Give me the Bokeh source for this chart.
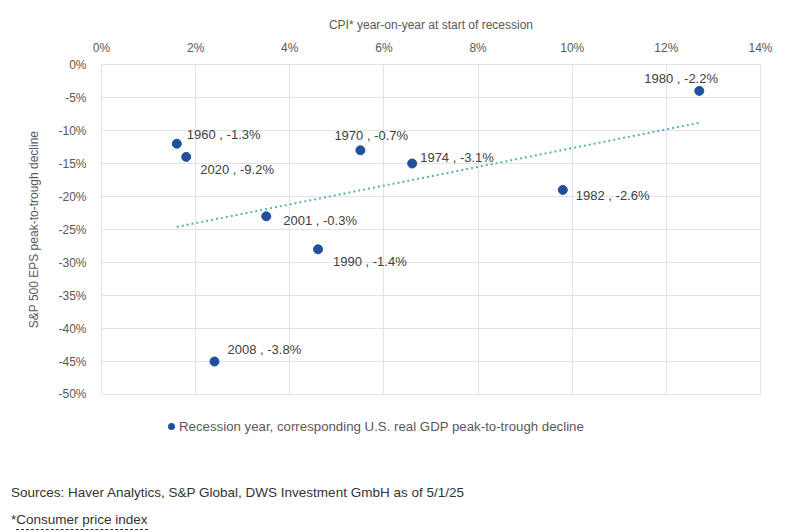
import numpy as np
from bokeh.plotting import figure
from bokeh.layouts import column
from bokeh.models import (ColumnDataSource, Label, PrintfTickFormatter, FixedTicker, Div)
from bokeh.embed import file_html
from bokeh.resources import INLINE

# ---- data ----
years = ["1960", "2020", "1970", "1974", "2001", "1990", "1980", "1982", "2008"]
cpi_yoy = [1.6, 1.8, 5.5, 6.6, 3.5, 4.6, 12.7, 9.8, 2.4]           # % CPI y/y at start of recession
eps_decline = [-12.0, -14.0, -13.0, -15.0, -23.0, -28.0, -4.0, -19.0, -45.0]  # % S&P 500 EPS decline
gdp_decline = ["-1.3", "-9.2", "-0.7", "-3.1", "-0.3", "-1.4", "-2.2", "-2.6", "-3.8"]  # % real GDP decline
x_ticks = [0, 2, 4, 6, 8, 10, 12, 14]
y_ticks = [0, -5, -10, -15, -20, -25, -30, -35, -40, -45, -50]

x_title = "CPI* year-on-year at start of recession"
y_title = "S&P 500 EPS peak-to-trough decline"
legend_text = "Recession year, corresponding U.S. real GDP peak-to-trough decline"
source_text = "Sources: Haver Analytics, S&P Global, DWS Investment GmbH as of 5/1/25"
note_star = "*"
note_text = "Consumer price index"

# label placement (screen px: dx right, dy down) -- styling only
label_offsets = {
    "1960": (10, -9), "2020": (14, 13), "1970": (-26, -15), "1974": (8, -6),
    "2001": (17, 4), "1990": (15, 12), "1980": (-55, -12), "1982": (13, 6),
    "2008": (13, -12),
}

FONT = "Liberation Sans"
GRID = "#dfe3ea"
DOT = "#21509b"
TREND = "#52b5b3"
GREY = "#595959"

p = figure(width=805, height=400, x_range=(0, 14), y_range=(-50, 0),
           x_axis_location="above", output_backend="svg", toolbar_location=None,
           min_border_left=101, min_border_right=45, min_border_top=64, min_border_bottom=6)
p.background_fill_color = "white"
p.border_fill_color = "white"
p.outline_line_color = GRID
p.outline_line_width = 1

for ax, ticks in ((p.xaxis, x_ticks), (p.yaxis, y_ticks)):
    ax.ticker = FixedTicker(ticks=ticks)
    ax.formatter = PrintfTickFormatter(format="%d%%")
    ax.axis_line_color = None
    ax.major_tick_line_color = None
    ax.minor_tick_line_color = None
    ax.major_tick_out = 0
    ax.major_label_text_font = FONT
    ax.major_label_text_font_size = "12px"
    ax.major_label_text_color = GREY
    ax.axis_label_text_font = FONT
    ax.axis_label_text_font_size = "12px"
    ax.axis_label_text_font_style = "normal"
    ax.axis_label_text_color = GREY

p.xaxis.axis_label = x_title
p.yaxis.axis_label = y_title
p.xaxis.major_label_standoff = 10
p.xaxis.axis_label_standoff = 6
p.yaxis.major_label_standoff = 15
p.yaxis.axis_label_standoff = 14

p.xgrid.ticker = FixedTicker(ticks=x_ticks)
p.ygrid.ticker = FixedTicker(ticks=y_ticks)
p.grid.grid_line_color = GRID
p.grid.grid_line_width = 1

# trend line (least squares fit of the points)
slope, intercept = np.polyfit(cpi_yoy, eps_decline, 1)
tx = [min(cpi_yoy), max(cpi_yoy)]
ty = [slope * v + intercept for v in tx]
p.line(tx, ty, line_color=TREND, line_width=2, line_dash="2 3")

src = ColumnDataSource(dict(x=cpi_yoy, y=eps_decline, year=years, gdp=gdp_decline))
pts = p.scatter("x", "y", source=src, size=9, fill_color=DOT, line_color=DOT)

for yr, cx, cy, g in zip(years, cpi_yoy, eps_decline, gdp_decline):
    dx, dy = label_offsets[yr]
    p.add_layout(Label(x=cx, y=cy, text=f"{yr} , {g}%", x_offset=dx, y_offset=-dy,
                       text_baseline="middle", text_align="left",
                       text_font=FONT, text_font_size="13px", text_color="#404040"))

# ---- legend line and footer (sources, note) ----
def esc(s):
    return s.replace("&", "&amp;")

footer_html = (
    f'<div style="position:relative;width:805px;height:132px;font-family:\'{FONT}\';line-height:15px;">'
    f'<div style="position:absolute;left:168px;top:18.5px;white-space:nowrap;color:{GREY};'
    f'font-size:13.25px;display:flex;align-items:center;">'
    f'<span style="display:inline-block;width:7px;height:7px;border-radius:50%;'
    f'background:{DOT};margin-right:4px;"></span>{esc(legend_text)}</div>'
    f'<div style="position:absolute;left:11px;top:85px;white-space:nowrap;color:#333333;'
    f'font-size:13.5px;">{esc(source_text)}</div>'
    f'<div style="position:absolute;left:11px;top:111.5px;white-space:nowrap;color:#333333;'
    f'font-size:13.5px;">{note_star}'
    f'<span style="border-bottom:1px dashed #333333;padding-bottom:2px;">{esc(note_text)}</span></div>'
    f'</div>'
)
footer = Div(text=footer_html, width=805, height=132, margin=0)

layout = column(p, footer, spacing=0)
open("out.html", "w").write(file_html(layout, INLINE))
